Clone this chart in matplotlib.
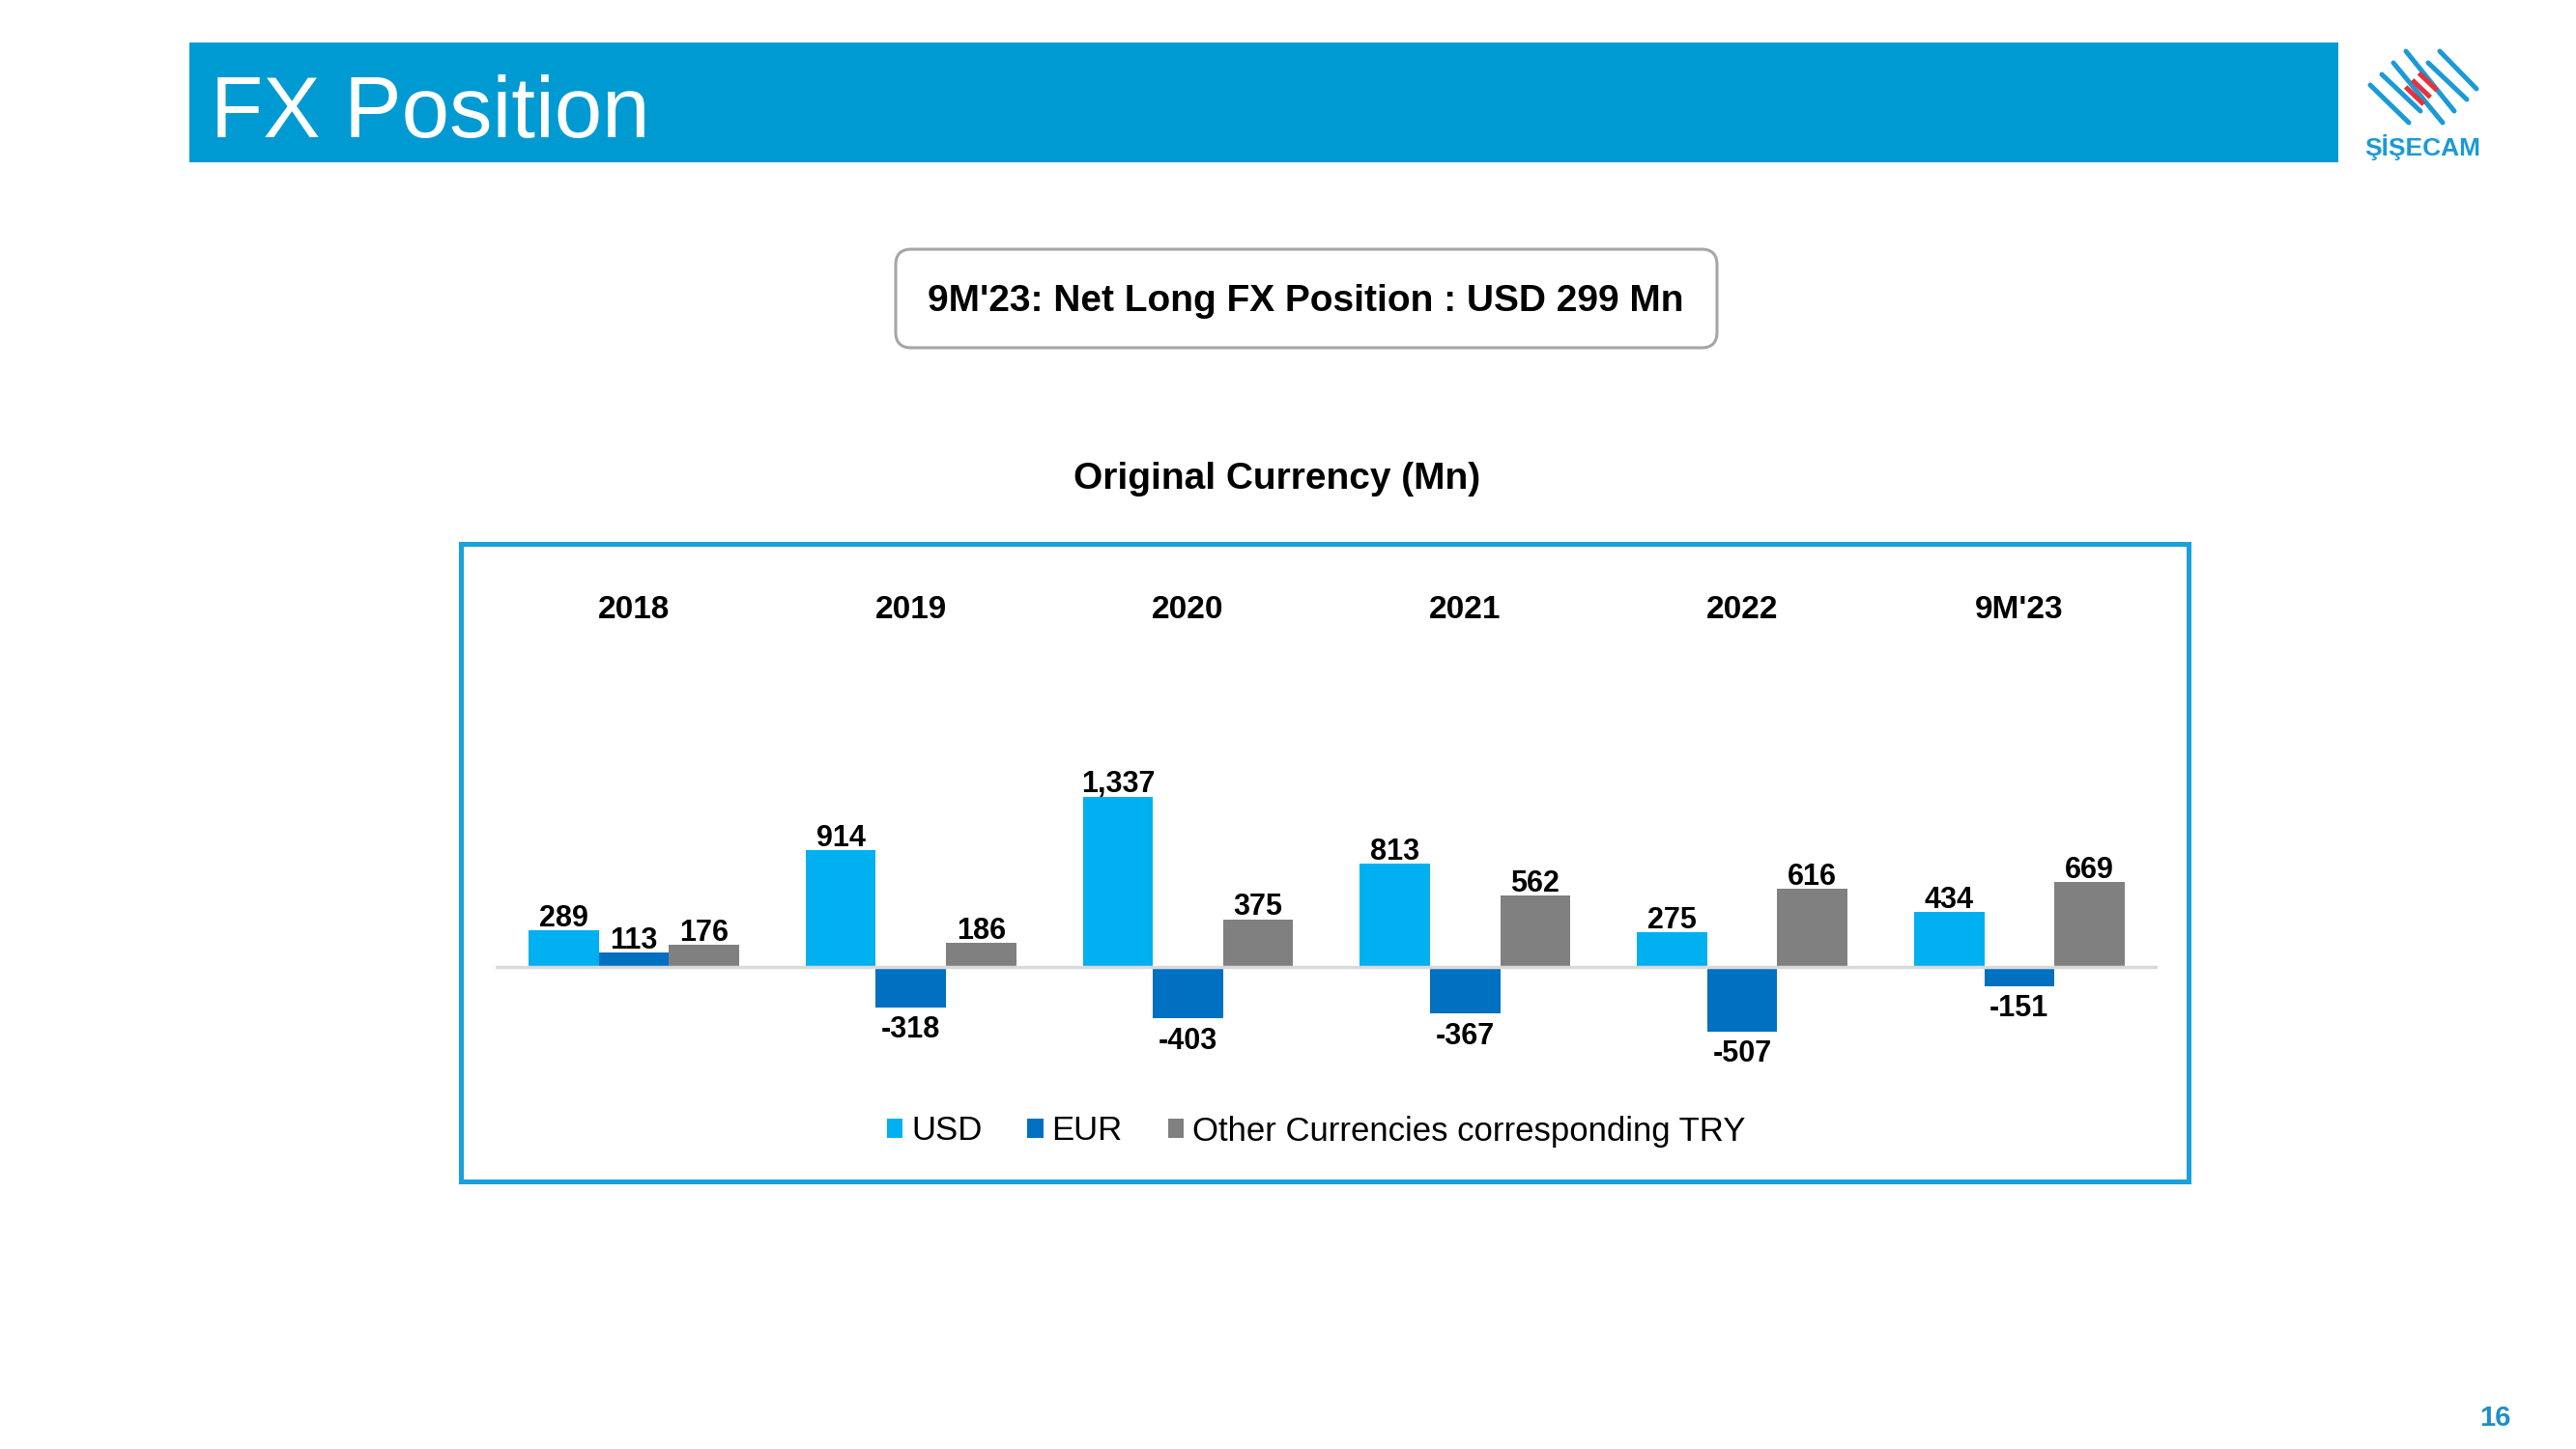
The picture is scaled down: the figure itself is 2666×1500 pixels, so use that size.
import matplotlib
matplotlib.use('Agg')
import matplotlib.pyplot as plt
import numpy as np
from matplotlib.patches import Rectangle, FancyBboxPatch

# ---------------- data ----------------
categories = ["2018", "2019", "2020", "2021", "2022", "9M'23"]
usd = [289, 914, 1337, 813, 275, 434]
eur = [113, -318, -403, -367, -507, -151]
other = [176, 186, 375, 562, 616, 669]
series_names = ["USD", "EUR", "Other Currencies corresponding TRY"]
series_colors = ["#00B0F0", "#0070C0", "#808080"]
title = "FX Position"
subtitle = "9M'23: Net Long FX Position : USD 299 Mn"
chart_title = "Original Currency (Mn)"
page_no = "16"

plt.rcParams['font.family'] = ['Liberation Sans', 'DejaVu Sans']

W, H = 2666, 1500
fig = plt.figure(figsize=(W / 100, H / 100), dpi=100)
fig.patch.set_facecolor('white')

# background / decoration layer in pixel coordinates
bg = fig.add_axes([0, 0, 1, 1], zorder=0)
bg.set_xlim(0, W)
bg.set_ylim(H, 0)
bg.axis('off')

# header bar
bg.add_patch(Rectangle((196, 44), 2224, 124, facecolor='#009AD3', edgecolor='none'))
bg.text(218, 142, title, color='white', fontsize=64, ha='left', va='baseline')

# logo
blue_lines = [((2453, 88), (2493, 127)), ((2465, 77), (2505, 115)),
              ((2477, 65), (2528, 127)), ((2490, 53), (2540, 115)),
              ((2513, 65), (2553, 103)), ((2525, 53), (2563, 92))]
for (x0, y0), (x1, y1) in blue_lines:
    bg.plot([x0, x1], [y0, y1], color='#1B9AD6', lw=3.6, solid_capstyle='round')
d = np.array([0.72, 0.69])
nvec = np.array([0.69, -0.72])
c0 = np.array([2499.0, 99.0])
for k in range(3):
    c = c0 + k * 10 * nvec
    p0, p1 = c - 13 * d, c + 13 * d
    bg.plot([p0[0], p1[0]], [p0[1], p1[1]], color='#E5323E', lw=3.6, solid_capstyle='butt')
bg.text(2507, 161, "ŞİŞECAM", color='#1B9AD6', fontsize=19, fontweight='bold',
        ha='center', va='baseline')

# subtitle box
r = 16
bg.add_patch(FancyBboxPatch((927 + r, 258 + r), 850 - 2 * r, 102 - 2 * r,
                            boxstyle=f"round,pad={r},rounding_size={r}",
                            facecolor='white', edgecolor='#A6A6A6', lw=2.2))
bg.text(1351, 322, subtitle, fontsize=28, fontweight='bold', color='black',
        ha='center', va='baseline')

# chart title
bg.text(1322, 506, chart_title, fontsize=28, fontweight='bold', color='black',
        ha='center', va='baseline')

# chart frame
bg.add_patch(Rectangle((477, 563), 1788, 660, fill=False, edgecolor='#1AA0DA', lw=3.6))

# page number
bg.text(2582, 1476, page_no, fontsize=21, fontweight='bold', color='#1E8FC8',
        ha='center', va='baseline')

# ---------------- chart ----------------
Y0_PX = 1001.0     # pixel row of zero line
K = 0.132          # pixels per unit
AX_TOP, AX_BOT = 590.0, 1150.0
AX_L, AX_R = 512.6, 2233.2
ax = fig.add_axes([AX_L / W, 1 - AX_BOT / H, (AX_R - AX_L) / W, (AX_BOT - AX_TOP) / H], zorder=1)
ax.patch.set_alpha(0)
ax.set_xlim(-0.5, len(categories) - 0.5)
ax.set_ylim(-(AX_BOT - Y0_PX) / K, (Y0_PX - AX_TOP) / K)
for s in ax.spines.values():
    s.set_visible(False)
ax.set_xticks([])
ax.set_yticks([])

x = np.arange(len(categories))
bw = 0.253
series = [usd, eur, other]
offsets = [-bw, 0, bw]
handles = []
for vals, name, col, off in zip(series, series_names, series_colors, offsets):
    bars = ax.bar(x + off, vals, width=bw, color=col, label=name, zorder=2)
    handles.append(bars)
    for xi, v in zip(x + off, vals):
        if v >= 0:
            ax.annotate(f"{v:,}", (xi, v), xytext=(0, 3), textcoords='offset points',
                        ha='center', va='baseline', fontsize=22, fontweight='bold')
        else:
            ax.annotate(f"{v:,}", (xi, v), xytext=(0, -6), textcoords='offset points',
                        ha='center', va='top', fontsize=22, fontweight='bold')

ax.axhline(0, color='#D9D9D9', lw=2.5, zorder=3)

# category labels on top
ylab = (AX_BOT - 640) / (AX_BOT - AX_TOP)
for xi, c in zip(x, categories):
    ax.text(xi, ylab, c, transform=ax.get_xaxis_transform(), ha='center', va='baseline',
            fontsize=24, fontweight='bold')

leg = ax.legend(handles=handles, labels=series_names, loc='center',
                bbox_to_anchor=(1362 / W, 1 - 1171 / H), bbox_transform=fig.transFigure,
                ncol=3, frameon=False, fontsize=25, handlelength=0.48, handleheight=0.48,
                handletextpad=0.25, columnspacing=1.35, borderpad=0, borderaxespad=0)

fig.savefig('out.png', dpi=100, facecolor='white')
